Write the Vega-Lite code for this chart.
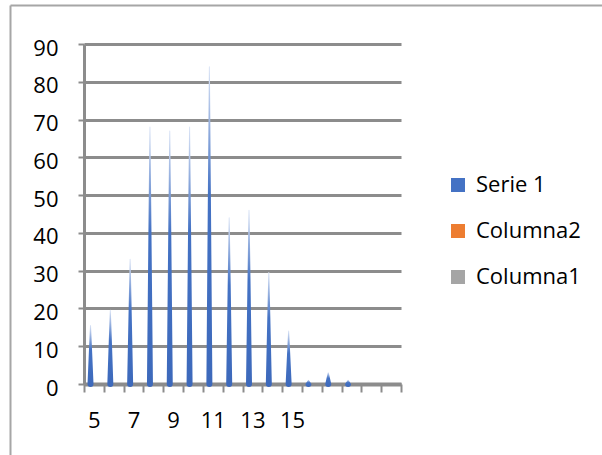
{
  "$schema": "https://vega.github.io/schema/vega-lite/v6.json",
  "width": 317,
  "height": 340,
  "autosize": {"type": "none"},
  "padding": {"left": 84, "top": 44, "right": 201, "bottom": 71},
  "background": "white",
  "config": {
    "view": {"stroke": null},
    "font": "Open Sans",
    "axis": {"labelColor": "#000000", "labelFont": "Open Sans", "labelFontSize": 22, "title": null}
  },
  "data": {
    "values": [
      {"n": 5, "serie": "Serie 1", "valor": 15.5, "base": 0},
      {"n": 6, "serie": "Serie 1", "valor": 19.5, "base": 0},
      {"n": 7, "serie": "Serie 1", "valor": 33, "base": 0},
      {"n": 8, "serie": "Serie 1", "valor": 68, "base": 0},
      {"n": 9, "serie": "Serie 1", "valor": 67, "base": 0},
      {"n": 10, "serie": "Serie 1", "valor": 68, "base": 0},
      {"n": 11, "serie": "Serie 1", "valor": 84, "base": 0},
      {"n": 12, "serie": "Serie 1", "valor": 44, "base": 0},
      {"n": 13, "serie": "Serie 1", "valor": 46, "base": 0},
      {"n": 14, "serie": "Serie 1", "valor": 29.5, "base": 0},
      {"n": 15, "serie": "Serie 1", "valor": 14, "base": 0},
      {"n": 16, "serie": "Serie 1", "valor": 1, "base": 0},
      {"n": 17, "serie": "Serie 1", "valor": 3, "base": 0},
      {"n": 18, "serie": "Serie 1", "valor": 1, "base": 0}
    ]
  },
  "transform": [{"fold": ["valor", "base"], "as": ["punto", "y"]}],
  "layer": [
    {
      "mark": {
        "type": "trail", "xOffset": -3.4,
        "fill": {
          "gradient": "linear", "x1": 0, "y1": 1, "x2": 0, "y2": 0,
          "stops": [
            {"offset": 0, "color": "#3d69bb"},
            {"offset": 0.6, "color": "#4472C4"},
            {"offset": 1, "color": "#dce5f6"}
          ]
        }
      },
      "encoding": {
        "x": {"field": "n", "type": "quantitative", "scale": {"domain": [4.5, 20.5], "nice": false, "zero": false}, "axis": null},
        "y": {
          "field": "y", "type": "quantitative",
          "scale": {"domain": [0, 90], "nice": false},
          "axis": {
            "orient": "left",
            "values": [0, 10, 20, 30, 40, 50, 60, 70, 80, 90],
            "grid": true, "gridColor": "#8c8c8c", "gridWidth": 3,
            "domainColor": "#8c8c8c", "domainWidth": 3,
            "tickColor": "#8c8c8c", "tickWidth": 2, "tickSize": 6,
            "labelPadding": 20, "labelOffset": 4
          }
        },
        "size": {"condition": {"test": "datum.punto === 'base'", "value": 6}, "value": 0},
        "detail": {"field": "n"},
        "order": {"field": "punto"}
      }
    },
    {
      "mark": {"type": "rule", "opacity": 0},
      "encoding": {
        "x": {
          "field": "n", "type": "ordinal",
          "scale": {"type": "band", "domain": [5, 6, 7, 8, 9, 10, 11, 12, 13, 14, 15, 16, 17, 18, 19, 20], "paddingInner": 0, "paddingOuter": 0},
          "axis": {
            "orient": "bottom",
            "tickBand": "extent", "grid": false,
            "domainColor": "#8c8c8c", "domainWidth": 4,
            "tickColor": "#8c8c8c", "tickWidth": 2, "tickSize": 8,
            "labelAngle": 0, "labelPadding": 18,
            "labelExpr": "indexof(['5','7','9','11','13','15'], datum.label) >= 0 ? datum.label : ''"
          }
        }
      }
    },
    {
      "mark": {"type": "point", "shape": "square", "filled": true, "opacity": 0},
      "encoding": {
        "x": {
          "field": "n", "type": "quantitative",
          "scale": {"domain": [0, 1], "range": [-74, 530], "nice": false, "zero": false},
          "axis": {"orient": "top", "offset": 39, "domainColor": "#a6a6a6", "domainWidth": 2, "ticks": false, "labels": false, "grid": false}
        },
        "y": {
          "field": "y", "type": "quantitative",
          "scale": {"domain": [0, 1], "range": [420, -39], "nice": false, "zero": false},
          "axis": {"orient": "left", "offset": 74, "domainColor": "#a6a6a6", "domainWidth": 2, "ticks": false, "labels": false, "grid": false}
        },
        "color": {
          "field": "serie", "type": "nominal",
          "scale": {"domain": ["Serie 1", "Columna2", "Columna1"], "range": ["#4472C4", "#ED7D31", "#A5A5A5"]},
          "legend": {
            "title": null, "orient": "none", "legendX": 363, "legendY": 130,
            "symbolType": "square", "symbolSize": 196, "symbolStrokeWidth": 0, "symbolOpacity": 1,
            "labelFont": "Open Sans", "labelFontSize": 22, "labelColor": "#000000", "labelOffset": 7,
            "rowPadding": 24
          }
        }
      }
    }
  ],
  "resolve": {"scale": {"x": "independent", "y": "independent"}}
}
